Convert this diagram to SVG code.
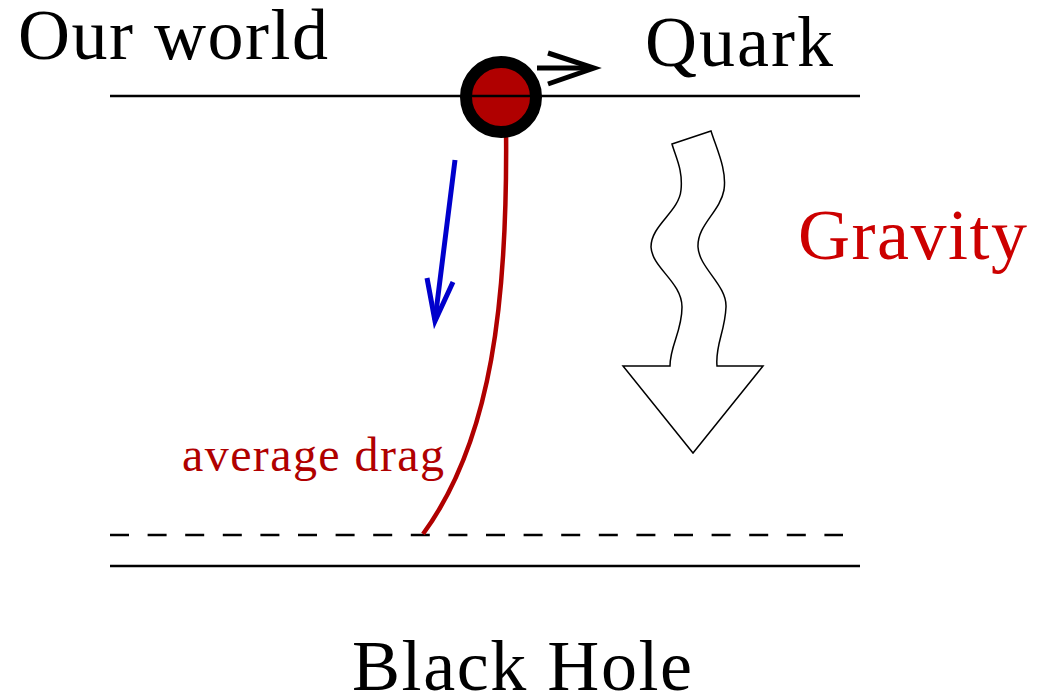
<svg xmlns="http://www.w3.org/2000/svg" width="1048" height="699" viewBox="0 0 1048 699">
<style>
.t{font-family:"Liberation Serif","Times New Roman",serif;fill:#000}
.line{stroke:#000;fill:none;stroke-width:2.5}
</style>
<rect width="1048" height="699" fill="#fff"/>
<g id="connectors">
<line class="line" x1="110" y1="96" x2="860" y2="96"/>
<line class="line" x1="110" y1="535" x2="843" y2="535" stroke-dasharray="19 18.6" stroke-width="3"/>
<line class="line" x1="110" y1="566" x2="860" y2="566" stroke-width="3"/>
<path d="M506,125 C508,300 492,440 423,534" stroke="#b00000" stroke-width="4.5" fill="none"/>
<g id="blue-arrow" stroke="#0000cc" stroke-width="5" fill="none">
<line x1="455" y1="160" x2="435" y2="320"/>
<polyline points="427,278 435,321 453,282"/>
</g>
<g id="quark-arrow" stroke="#000" stroke-width="5" fill="none">
<line x1="537" y1="68" x2="593" y2="68"/>
<polyline points="548,53 594,68 548,84"/>
</g>
</g>
<g id="quark">
<circle cx="501" cy="97" r="35" fill="#b00000" stroke="#000" stroke-width="12"/>
<line x1="466" y1="96" x2="536" y2="96" stroke="#000" stroke-width="2.5"/>
</g>
<g id="gravity-arrow">
<path d="M672,144 L711,131 C717,150 727,170 724,190 C720,212 697,225 698,247 C699,268 727,285 726,307 C725,332 715,345 717,366 L763,366 L693,453 L623,366 L670,366 C670,345 682,332 682,307 C682,282 652,268 651,247 C651,225 679,212 681,190 C683,170 676,158 672,144 Z" fill="#fff" stroke="#000" stroke-width="1.5"/>
</g>
<g id="labels">
<text class="t" x="18" y="59" font-size="72" textLength="310" lengthAdjust="spacing">Our world</text>
<text class="t" x="645" y="66" font-size="72" textLength="188" lengthAdjust="spacing">Quark</text>
<text class="t" x="798" y="259" font-size="72" textLength="229" lengthAdjust="spacing" style="fill:#cc0000">Gravity</text>
<text class="t" x="352" y="690" font-size="72" textLength="340" lengthAdjust="spacing">Black Hole</text>
<text class="t" x="182" y="471" font-size="48" textLength="262" lengthAdjust="spacing" style="fill:#b00000">average drag</text>
</g>
</svg>
